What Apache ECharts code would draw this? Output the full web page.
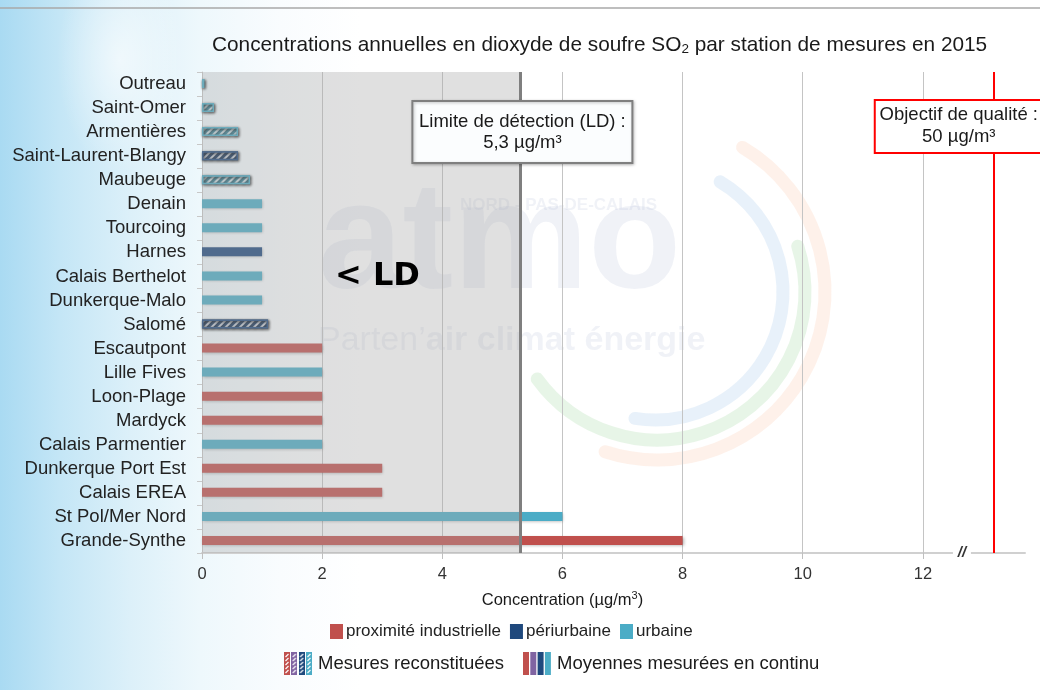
<!DOCTYPE html>
<html><head><meta charset="utf-8">
<script src="https://cdn.jsdelivr.net/npm/echarts@6/dist/echarts.min.js"></script>
<style>
html,body{margin:0;padding:0;}
body{width:1040px;height:690px;overflow:hidden;background:#fff;position:relative;}
#bg{position:absolute;left:0;top:0;width:1040px;height:690px;background:
 radial-gradient(ellipse 90px 160px at 120px 60px, rgba(255,255,255,0.6), rgba(255,255,255,0) 70%),
 linear-gradient(to right, #a9daf2 0px, #c4e6f6 60px, #dcf0f9 130px, #eef8fc 200px, #f9fcfe 280px, #ffffff 360px);}
#main{position:absolute;left:0;top:0;width:1040px;height:690px;}
</style></head>
<body><div id="bg"></div><div id="main"></div>
<script>
// ---- data ----
const categories = ['Outreau','Saint-Omer','Armentières','Saint-Laurent-Blangy','Maubeuge','Denain','Tourcoing','Harnes','Calais Berthelot','Dunkerque-Malo','Salomé','Escautpont','Lille Fives','Loon-Plage','Mardyck','Calais Parmentier','Dunkerque Port Est','Calais EREA','St Pol/Mer Nord','Grande-Synthe'];
const values = [0.04, 0.2, 0.6, 0.6, 0.8, 1, 1, 1, 1, 1, 1.1, 2, 2, 2, 2, 2, 3, 3, 6, 8];
const stationTypes = ['urb','urb','urb','peri','urb','urb','urb','peri','urb','urb','peri','ind','urb','ind','ind','urb','ind','ind','urb','ind'];
const reconstituted = [true,true,true,true,true,false,false,false,false,false,true,false,false,false,false,false,false,false,false,false];
const xTickLabels = [0, 2, 4, 6, 8, 10, 12];
const gridTicks = [2, 4, 6, 8, 10, 12];
const LD = 5.3;              // limite de détection (µg/m³)
const OBJ_POS = 13.18;       // position of 50 µg/m³ on the broken axis
const BREAK_POS = 12.65;     // axis break marker
const AXIS_MAX = 13.7;

const FONT = "'Liberation Sans', Arial, sans-serif";
const typeDefs = [
  {key:'ind',  name:'proximité industrielle', color:'#c0504d'},
  {key:'peri', name:'périurbaine',            color:'#1f497d'},
  {key:'urb',  name:'urbaine',                color:'#4bacc6'}
];
const decal = {symbol:'rect', symbolSize:1, color:'rgba(255,255,255,0.75)', dashArrayX:[1,0], dashArrayY:[1.5,3], rotation:-Math.PI/4};

const barSeries = typeDefs.map(t => ({
  name: t.name, type:'bar', stack:'s', barWidth:9, z:2,
  itemStyle:{color:t.color, shadowColor:'rgba(0,0,0,0.3)', shadowBlur:3, shadowOffsetX:1, shadowOffsetY:1},
  data: values.map((v,i) => stationTypes[i] === t.key
        ? (reconstituted[i] ? {value:v, itemStyle:{decal:decal, borderColor:t.color, borderWidth:1.5}} : v)
        : '-')
}));

const chart = echarts.init(document.getElementById('main'), null, {renderer:'canvas'});
const option = {
  animation:false,
  backgroundColor:'transparent',
  textStyle:{fontFamily:FONT},
  title:{
    text:'Concentrations annuelles en dioxyde de soufre SO{s|2} par station de mesures en 2015',
    left:207, top:29,
    textStyle:{fontSize:20.8, fontWeight:'normal', color:'#1a1a1a', fontFamily:FONT,
      rich:{s:{fontSize:13.5, verticalAlign:'bottom', padding:[8,0,0,0], color:'#1a1a1a', fontFamily:FONT}}}
  },
  legend:{
    data: typeDefs.map(t=>t.name), left:330, top:623, icon:'rect',
    itemWidth:13, itemHeight:15, itemGap:9, selectedMode:false, padding:0,
    itemStyle:{shadowBlur:0, shadowColor:'transparent', shadowOffsetX:0, shadowOffsetY:0},
    textStyle:{fontSize:17, color:'#222', fontFamily:FONT, padding:[0,0,0,-2]}
  },
  grid:{left:202, top:72, right:15, bottom:137, containLabel:false},
  xAxis:{
    type:'value', min:0, max:AXIS_MAX, interval:2,
    splitLine:{show:false},
    axisLine:{show:true, lineStyle:{color:'#d0d0d0', width:2}},
    axisTick:{show:true, customValues:xTickLabels, length:6, lineStyle:{color:'#bfbfbf'}},
    axisLabel:{customValues:xTickLabels, fontSize:16.5, color:'#333', margin:13, fontFamily:FONT}
  },
  yAxis:{
    type:'category', data:categories, inverse:true,
    axisLine:{show:true, lineStyle:{color:'#c8c8c8'}},
    axisTick:{show:true, length:5, interval:0, lineStyle:{color:'#c8c8c8'}},
    axisLabel:{interval:0, fontSize:18.5, color:'#222', margin:16, fontFamily:FONT}
  },
  series:[
    {type:'bar', name:'_grid', data:[], z:1, silent:true,
     markLine:{z:1, silent:true, symbol:'none', label:{show:false}, lineStyle:{color:'#c4c4c4', width:1, type:'solid'},
       data: gridTicks.map(v => ({xAxis:v}))}},
    ...barSeries,
    {type:'bar', name:'_overlay', data:[], z:5, silent:true,
     markArea:{z:5, silent:true, itemStyle:{color:'rgba(170,170,170,0.36)'}, data:[[{xAxis:0},{xAxis:LD}]]}},
    {type:'bar', name:'_lines', data:[], z:6, silent:true,
     markLine:{z:6, silent:true, symbol:'none', label:{show:false},
       data:[
         {xAxis:LD, lineStyle:{color:'#7f7f7f', width:3, type:'solid'}},
         {xAxis:OBJ_POS, lineStyle:{color:'#ff0000', width:2, type:'solid'}}
       ]}}
  ]
};
chart.setOption(option);

function hatchCanvas(color, w, h){
  const c = document.createElement('canvas'); c.width = w; c.height = h;
  const g = c.getContext('2d');
  g.fillStyle = color; g.fillRect(0,0,w,h);
  g.strokeStyle = 'rgba(255,255,255,0.95)'; g.lineWidth = 1.2;
  for(let y=3; y<h-1; y+=4){ g.beginPath(); g.moveTo(1.5,y+2); g.lineTo(w-1.5,y-1); g.stroke(); }
  return c;
}

function px(x, cat){ return chart.convertToPixel({gridIndex:0}, [x, cat]); }
const ldP = px(LD, categories[0]);
const objP = px(OBJ_POS, categories[0]);
const brP = px(BREAK_POS, categories[categories.length-1]);
const axisY = 553;
const ltP = px(2.92, 'Calais Berthelot');
const nameP = px(6, categories[0]);

const wm = 'rgba(150,160,195,0.14)';
const legendColors = ['#c0504d','#8064a2','#1f497d','#4bacc6'];
const graphics = [
  {type:'line', shape:{x1:0,y1:8,x2:1040,y2:8}, style:{stroke:'#a8a8a8', lineWidth:1.5}, z:0},
  // watermark
  {type:'arc', shape:{cx:655, cy:292, r:128, startAngle:-Math.PI*0.33, endAngle:Math.PI*0.55}, style:{stroke:'rgba(180,210,240,0.3)', lineWidth:13, fill:null, lineCap:'round'}, z:-1},
  {type:'arc', shape:{cx:657, cy:292, r:148, startAngle:-Math.PI*0.1, endAngle:Math.PI*0.8}, style:{stroke:'rgba(160,215,160,0.25)', lineWidth:13, fill:null, lineCap:'round'}, z:-1},
  {type:'arc', shape:{cx:657, cy:292, r:168, startAngle:-Math.PI*0.33, endAngle:Math.PI*0.6}, style:{stroke:'rgba(250,190,160,0.22)', lineWidth:13, fill:null, lineCap:'round'}, z:-1},
  {type:'text', x:318, y:322, style:{text:'atmo', font:"bold 152px 'Liberation Sans', Arial", fill:wm, textVerticalAlign:'bottom'}, z:-1},
  {type:'text', x:460, y:205, style:{text:'NORD - PAS-DE-CALAIS', font:"bold 17px 'Liberation Sans', Arial", fill:wm, textVerticalAlign:'middle'}, z:-1},
  {type:'text', x:318, y:341, style:{text:"{r|Parten’}{b|air climat énergie}", rich:{r:{fontSize:34, fontFamily:FONT, fill:wm}, b:{fontSize:34, fontWeight:'bold', fontFamily:FONT, fill:wm}}, textVerticalAlign:'middle'}, z:-1},
  // LD label
  {type:'text', x:ltP[0], y:ltP[1], style:{text:'< LD', font:"bold 32px 'DejaVu Sans', sans-serif", fill:'#000', textAlign:'center', textVerticalAlign:'middle'}, z:10},
  // LD box
  {type:'rect', shape:{x:ldP[0]-108, y:101, width:220, height:62}, style:{fill:'#fbfdfe', stroke:'#7f7f7f', lineWidth:2, shadowBlur:3, shadowColor:'rgba(0,0,0,0.25)', shadowOffsetX:1, shadowOffsetY:1}, z:10},
  {type:'text', x:ldP[0]+2, y:122, style:{text:'Limite de détection (LD) :', font:"18.5px 'Liberation Sans', Arial", fill:'#1a1a1a', textAlign:'center', textVerticalAlign:'middle'}, z:11},
  {type:'text', x:ldP[0]+2, y:143, style:{text:'5,3 µg/m³', font:"18.5px 'Liberation Sans', Arial", fill:'#1a1a1a', textAlign:'center', textVerticalAlign:'middle'}, z:11},
  // objective box
  {type:'rect', shape:{x:objP[0]-119, y:100, width:170, height:53}, style:{fill:'#ffffff', stroke:'#ff0000', lineWidth:2}, z:10},
  {type:'text', x:objP[0]-35, y:115, style:{text:'Objectif de qualité :', font:"18.5px 'Liberation Sans', Arial", fill:'#1a1a1a', textAlign:'center', textVerticalAlign:'middle'}, z:11},
  {type:'text', x:objP[0]-35, y:137, style:{text:'50 µg/m³', font:"18.5px 'Liberation Sans', Arial", fill:'#1a1a1a', textAlign:'center', textVerticalAlign:'middle'}, z:11},
  // axis break
  {type:'rect', shape:{x:brP[0]-9, y:axisY-3, width:18, height:6}, style:{fill:'#ffffff'}, z:10},
  {type:'text', x:brP[0], y:axisY, style:{text:'//', font:"italic bold 15px 'Liberation Sans', Arial", fill:'#333', textAlign:'center', textVerticalAlign:'middle'}, z:11},
  // axis name
  {type:'text', x:nameP[0], y:600, style:{text:'Concentration (µg/m{s|3})', font:"16.5px 'Liberation Sans', Arial", fill:'#1a1a1a', textAlign:'center', textVerticalAlign:'middle',
     rich:{s:{fontSize:11, fontFamily:FONT, fill:'#1a1a1a', verticalAlign:'top', padding:[0,0,8,0]}}}, z:10},
  // second legend row
  {type:'text', x:318, y:664, style:{text:'Mesures reconstituées', font:"18.5px 'Liberation Sans', Arial", fill:'#1a1a1a', textVerticalAlign:'middle'}, z:10},
  {type:'text', x:557, y:664, style:{text:'Moyennes mesurées en continu', font:"18.5px 'Liberation Sans', Arial", fill:'#1a1a1a', textVerticalAlign:'middle'}, z:10}
];
legendColors.forEach((c,i) => {
  graphics.push({type:'image', x:284+i*7.3, y:652, style:{image:hatchCanvas(c,6,23), width:6, height:23}, z:10});
  graphics.push({type:'rect', shape:{x:523+i*7.3, y:652, width:6, height:23}, style:{fill:c}, z:10});
});
chart.setOption({graphic:{elements:graphics}});
</script>
</body></html>
